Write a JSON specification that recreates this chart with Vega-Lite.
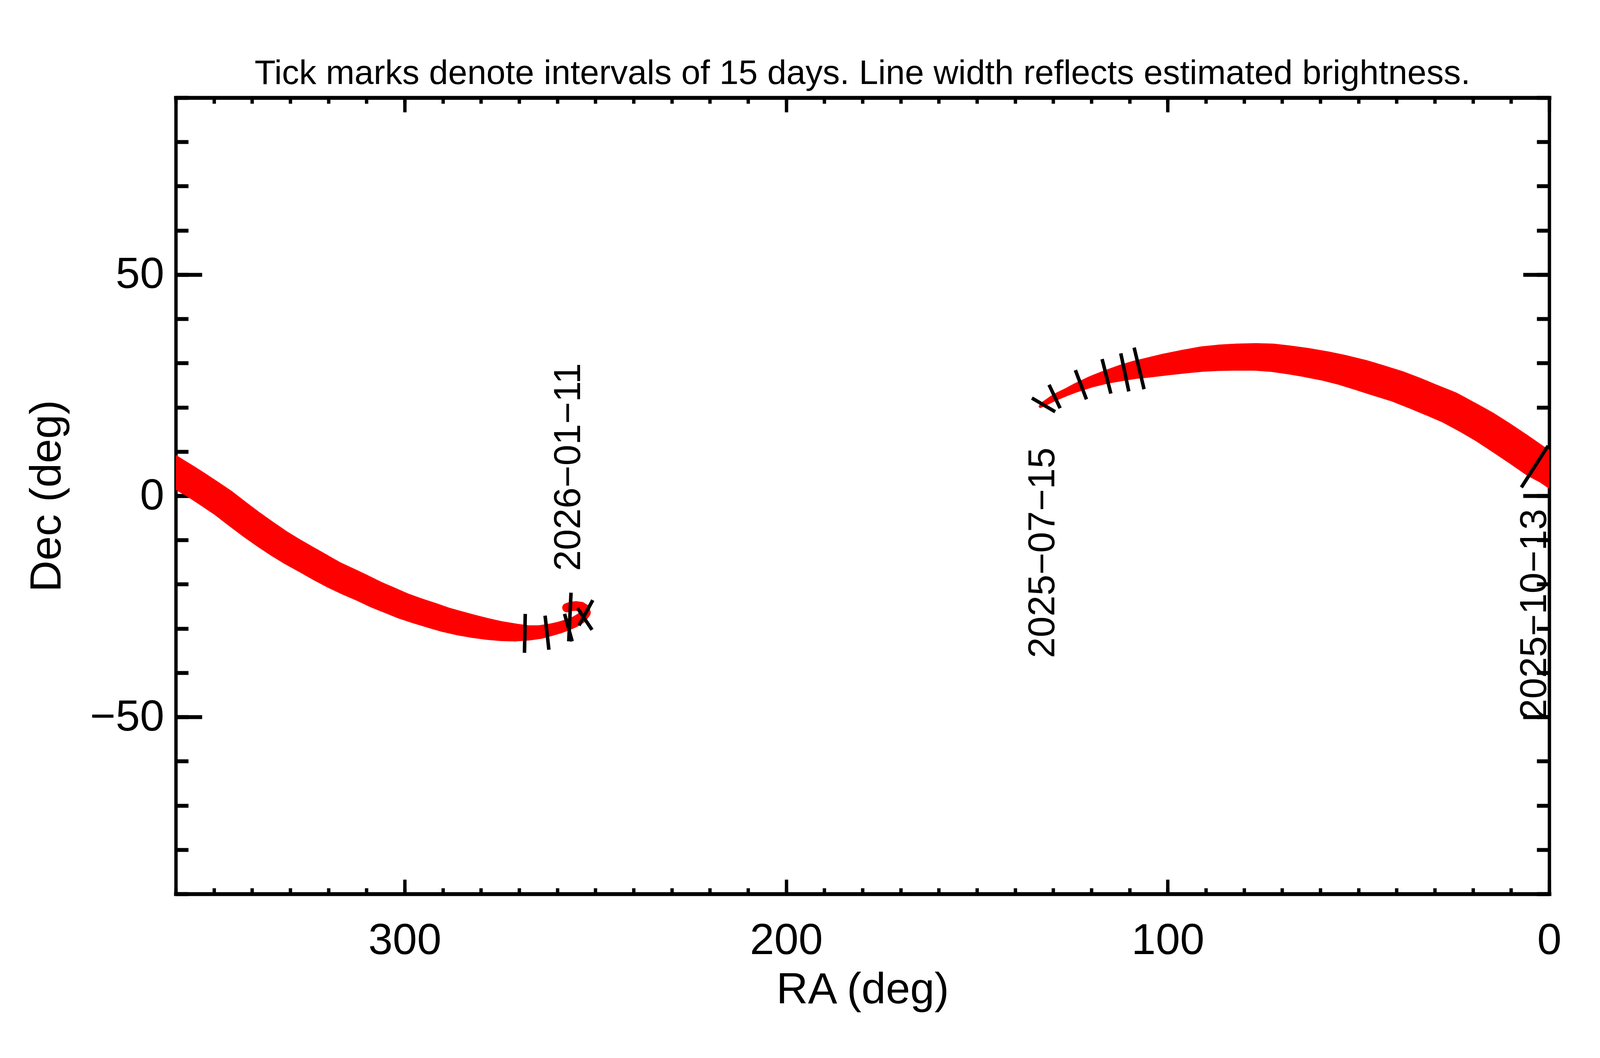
{
  "$schema": "https://vega.github.io/schema/vega-lite/v6.json",
  "width": 3516,
  "height": 2038,
  "autosize": {"type": "none"},
  "padding": {"left": 450, "top": 250, "right": 202, "bottom": 420},
  "background": "white",
  "title": {
    "text": "Tick marks denote intervals of 15 days.  Line width reflects estimated brightness.",
    "font": "Liberation Sans",
    "fontSize": 88,
    "fontWeight": "normal",
    "color": "black",
    "anchor": "middle",
    "baseline": "alphabetic",
    "offset": 0,
    "dy": 58,
    "limit": 0
  },
  "config": {
    "view": {"stroke": null},
    "axis": {
      "grid": false,
      "zindex": 0,
      "domainColor": "black",
      "domainCap": "square",
      "tickColor": "black",
      "labelFont": "Liberation Sans",
      "titleFont": "Liberation Sans",
      "labelColor": "black",
      "titleColor": "black",
      "labelFontSize": 112,
      "titleFontSize": 112,
      "titleFontWeight": "normal",
      "labelLimit": 0,
      "titleLimit": 0,
      "labelFlush": false,
      "labelOverlap": false
    },
    "axisX": {"tickWidth": 8.6, "domainWidth": 10},
    "axisY": {"tickWidth": 10, "domainWidth": 8.6}
  },
  "datasets": {
    "path": [
      {"seg": 1, "t": 1, "ra": 133.4, "dec": 20.2, "mag": 16.0},
      {"seg": 1, "t": 2, "ra": 132.4, "dec": 20.8, "mag": 15.25},
      {"seg": 1, "t": 3, "ra": 130.5, "dec": 21.8, "mag": 14.9},
      {"seg": 1, "t": 4, "ra": 128.7, "dec": 22.6, "mag": 14.6},
      {"seg": 1, "t": 5, "ra": 126.4, "dec": 23.5, "mag": 14.4},
      {"seg": 1, "t": 6, "ra": 124.1, "dec": 24.4, "mag": 14.0},
      {"seg": 1, "t": 7, "ra": 120.0, "dec": 25.8, "mag": 13.25},
      {"seg": 1, "t": 8, "ra": 116.0, "dec": 26.9, "mag": 12.5},
      {"seg": 1, "t": 9, "ra": 112.0, "dec": 27.8, "mag": 11.6},
      {"seg": 1, "t": 10, "ra": 108.5, "dec": 28.5, "mag": 11.0},
      {"seg": 1, "t": 11, "ra": 105.0, "dec": 29.0, "mag": 10.4},
      {"seg": 1, "t": 12, "ra": 100.5, "dec": 29.7, "mag": 9.75},
      {"seg": 1, "t": 13, "ra": 96.0, "dec": 30.3, "mag": 9.25},
      {"seg": 1, "t": 14, "ra": 91.0, "dec": 30.9, "mag": 8.7},
      {"seg": 1, "t": 15, "ra": 86.5, "dec": 31.2, "mag": 8.4},
      {"seg": 1, "t": 16, "ra": 82.0, "dec": 31.35, "mag": 8.2},
      {"seg": 1, "t": 17, "ra": 77.0, "dec": 31.4, "mag": 8.0},
      {"seg": 1, "t": 18, "ra": 72.5, "dec": 31.2, "mag": 7.75},
      {"seg": 1, "t": 19, "ra": 68.0, "dec": 30.7, "mag": 7.6},
      {"seg": 1, "t": 20, "ra": 63.5, "dec": 30.1, "mag": 7.4},
      {"seg": 1, "t": 21, "ra": 58.5, "dec": 29.3, "mag": 7.25},
      {"seg": 1, "t": 22, "ra": 54.0, "dec": 28.4, "mag": 7.0},
      {"seg": 1, "t": 23, "ra": 49.0, "dec": 27.2, "mag": 6.6},
      {"seg": 1, "t": 24, "ra": 44.5, "dec": 26.0, "mag": 6.5},
      {"seg": 1, "t": 25, "ra": 40.0, "dec": 24.8, "mag": 6.5},
      {"seg": 1, "t": 26, "ra": 35.5, "dec": 23.3, "mag": 6.4},
      {"seg": 1, "t": 27, "ra": 31.0, "dec": 21.7, "mag": 6.4},
      {"seg": 1, "t": 28, "ra": 26.0, "dec": 19.9, "mag": 6.25},
      {"seg": 1, "t": 29, "ra": 21.5, "dec": 17.8, "mag": 6.25},
      {"seg": 1, "t": 30, "ra": 17.0, "dec": 15.6, "mag": 6.1},
      {"seg": 1, "t": 31, "ra": 12.5, "dec": 13.1, "mag": 6.0},
      {"seg": 1, "t": 32, "ra": 8.0, "dec": 10.5, "mag": 6.0},
      {"seg": 1, "t": 33, "ra": 3.5, "dec": 7.8, "mag": 6.0},
      {"seg": 1, "t": 34, "ra": 0.0, "dec": 6.2, "mag": 6.0},
      {"seg": 1, "t": 35, "ra": -2.0, "dec": 5.0, "mag": 6.0},
      {"seg": 2, "t": 36, "ra": 361.5, "dec": 6.1, "mag": 7.25},
      {"seg": 2, "t": 37, "ra": 359.3, "dec": 4.9, "mag": 7.25},
      {"seg": 2, "t": 38, "ra": 357.0, "dec": 3.7, "mag": 7.25},
      {"seg": 2, "t": 39, "ra": 354.9, "dec": 2.6, "mag": 7.4},
      {"seg": 2, "t": 40, "ra": 351.2, "dec": 0.5, "mag": 7.4},
      {"seg": 2, "t": 41, "ra": 347.6, "dec": -1.6, "mag": 7.4},
      {"seg": 2, "t": 42, "ra": 344.0, "dec": -4.0, "mag": 7.4},
      {"seg": 2, "t": 43, "ra": 340.3, "dec": -6.4, "mag": 7.4},
      {"seg": 2, "t": 44, "ra": 336.7, "dec": -8.6, "mag": 7.4},
      {"seg": 2, "t": 45, "ra": 333.1, "dec": -10.7, "mag": 7.5},
      {"seg": 2, "t": 46, "ra": 329.5, "dec": -12.6, "mag": 7.5},
      {"seg": 2, "t": 47, "ra": 325.8, "dec": -14.4, "mag": 7.6},
      {"seg": 2, "t": 48, "ra": 322.1, "dec": -16.2, "mag": 7.6},
      {"seg": 2, "t": 49, "ra": 318.5, "dec": -17.9, "mag": 7.75},
      {"seg": 2, "t": 50, "ra": 314.8, "dec": -19.4, "mag": 7.75},
      {"seg": 2, "t": 51, "ra": 311.2, "dec": -20.8, "mag": 7.9},
      {"seg": 2, "t": 52, "ra": 307.6, "dec": -22.3, "mag": 8.0},
      {"seg": 2, "t": 53, "ra": 304.0, "dec": -23.6, "mag": 8.1},
      {"seg": 2, "t": 54, "ra": 300.4, "dec": -24.9, "mag": 8.25},
      {"seg": 2, "t": 55, "ra": 296.7, "dec": -26.0, "mag": 8.4},
      {"seg": 2, "t": 56, "ra": 293.0, "dec": -27.0, "mag": 8.5},
      {"seg": 2, "t": 57, "ra": 289.4, "dec": -28.0, "mag": 8.75},
      {"seg": 2, "t": 58, "ra": 285.7, "dec": -28.8, "mag": 9.0},
      {"seg": 2, "t": 59, "ra": 282.1, "dec": -29.5, "mag": 9.4},
      {"seg": 2, "t": 60, "ra": 278.5, "dec": -30.1, "mag": 9.9},
      {"seg": 2, "t": 61, "ra": 274.8, "dec": -30.6, "mag": 10.5},
      {"seg": 2, "t": 62, "ra": 271.2, "dec": -30.9, "mag": 11.1},
      {"seg": 2, "t": 63, "ra": 267.6, "dec": -31.0, "mag": 12.0},
      {"seg": 2, "t": 64, "ra": 264.5, "dec": -30.8, "mag": 12.5},
      {"seg": 2, "t": 65, "ra": 261.7, "dec": -30.3, "mag": 12.9},
      {"seg": 2, "t": 66, "ra": 259.5, "dec": -29.8, "mag": 13.1},
      {"seg": 2, "t": 67, "ra": 257.4, "dec": -29.2, "mag": 13.25},
      {"seg": 2, "t": 68, "ra": 255.4, "dec": -28.5, "mag": 13.4},
      {"seg": 2, "t": 69, "ra": 253.7, "dec": -27.6, "mag": 13.5},
      {"seg": 2, "t": 70, "ra": 252.6, "dec": -26.4, "mag": 13.6},
      {"seg": 2, "t": 71, "ra": 252.8, "dec": -25.6, "mag": 13.75},
      {"seg": 2, "t": 72, "ra": 253.7, "dec": -25.1, "mag": 13.75},
      {"seg": 2, "t": 73, "ra": 255.0, "dec": -24.9, "mag": 13.9},
      {"seg": 2, "t": 74, "ra": 256.4, "dec": -25.0, "mag": 13.9},
      {"seg": 2, "t": 75, "ra": 257.5, "dec": -25.3, "mag": 14.0}
    ],
    "ticks": [
      {"seg": 1, "ra1": 135.6, "dec1": 22.1, "ra2": 129.5, "dec2": 19.0},
      {"seg": 1, "ra1": 131.1, "dec1": 25.1, "ra2": 128.2, "dec2": 19.8},
      {"seg": 1, "ra1": 124.2, "dec1": 28.4, "ra2": 121.3, "dec2": 21.8},
      {"seg": 1, "ra1": 117.2, "dec1": 30.9, "ra2": 114.9, "dec2": 23.1},
      {"seg": 1, "ra1": 112.3, "dec1": 32.2, "ra2": 110.2, "dec2": 23.6},
      {"seg": 1, "ra1": 108.8, "dec1": 33.5, "ra2": 106.2, "dec2": 24.1},
      {"seg": 1, "ra1": 7.3, "dec1": 1.9, "ra2": 0.3, "dec2": 11.3},
      {"seg": 2, "ra1": 268.4, "dec1": -26.7, "ra2": 268.6, "dec2": -35.5},
      {"seg": 2, "ra1": 263.2, "dec1": -27.1, "ra2": 262.2, "dec2": -34.8},
      {"seg": 2, "ra1": 256.4, "dec1": -21.9, "ra2": 257.0, "dec2": -32.9},
      {"seg": 2, "ra1": 258.1, "dec1": -26.7, "ra2": 256.1, "dec2": -32.9},
      {"seg": 2, "ra1": 254.3, "dec1": -29.3, "ra2": 250.7, "dec2": -23.6},
      {"seg": 2, "ra1": 254.7, "dec1": -25.4, "ra2": 250.9, "dec2": -30.3}
    ],
    "dates": [
      {"label": "2025−07−15", "ra": 132.7, "dec": -36.7},
      {"label": "2025−10−13", "ra": 3.8, "dec": -50.6},
      {"label": "2026−01−11", "ra": 257.0, "dec": -17.0}
    ]
  },
  "layer": [
    {
      "data": {"name": "path"},
      "mark": {"type": "trail", "color": "#ff0000", "clip": true},
      "encoding": {
        "x": {
          "field": "ra",
          "type": "quantitative",
          "scale": {"domain": [0, 360], "reverse": true, "nice": false, "zero": false},
          "axis": {
            "orient": "bottom",
            "values": [0, 100, 200, 300],
            "tickSize": -37,
            "labelPadding": 102,
            "title": "RA (deg)",
            "titlePadding": 16,
            "domain": true
          }
        },
        "y": {
          "field": "dec",
          "type": "quantitative",
          "scale": {"domain": [-90, 90], "nice": false, "zero": false},
          "axis": {
            "orient": "left",
            "values": [-50, 0, 50],
            "tickSize": -67,
            "labelPadding": 97,
            "title": "Dec (deg)",
            "titlePadding": 72,
            "domain": true
          }
        },
        "size": {
          "field": "mag",
          "type": "quantitative",
          "scale": {"domain": [17, 5], "range": [0, 94], "zero": false},
          "legend": null
        },
        "order": {"field": "t", "type": "quantitative"},
        "detail": {"field": "seg", "type": "nominal"}
      }
    },
    {
      "data": {"name": "ticks"},
      "transform": [{"filter": "datum.seg == 1"}],
      "mark": {"type": "rule", "color": "black", "strokeWidth": 9, "clip": true},
      "encoding": {
        "x": {
          "field": "ra1",
          "type": "quantitative",
          "scale": {"domain": [0, 360], "reverse": true, "nice": false, "zero": false},
          "axis": {
            "orient": "bottom",
            "values": [0, 10, 20, 30, 40, 50, 60, 70, 80, 90, 100, 110, 120, 130, 140, 150, 160, 170, 180, 190, 200, 210, 220, 230, 240, 250, 260, 270, 280, 290, 300, 310, 320, 330, 340, 350, 360],
            "tickSize": -15,
            "labels": false,
            "title": null,
            "domain": false
          }
        },
        "x2": {"field": "ra2"},
        "y": {
          "field": "dec1",
          "type": "quantitative",
          "scale": {"domain": [-90, 90], "nice": false, "zero": false},
          "axis": {
            "orient": "left",
            "values": [-90, -80, -70, -60, -50, -40, -30, -20, -10, 0, 10, 20, 30, 40, 50, 60, 70, 80, 90],
            "tickSize": -32,
            "labels": false,
            "title": null,
            "domain": false
          }
        },
        "y2": {"field": "dec2"}
      }
    },
    {
      "data": {"name": "ticks"},
      "transform": [{"filter": "datum.seg == 2"}],
      "mark": {"type": "rule", "color": "black", "strokeWidth": 9, "clip": true},
      "encoding": {
        "x": {
          "field": "ra1",
          "type": "quantitative",
          "scale": {"domain": [0, 360], "reverse": true, "nice": false, "zero": false},
          "axis": {
            "orient": "top",
            "values": [0, 10, 20, 30, 40, 50, 60, 70, 80, 90, 100, 110, 120, 130, 140, 150, 160, 170, 180, 190, 200, 210, 220, 230, 240, 250, 260, 270, 280, 290, 300, 310, 320, 330, 340, 350, 360],
            "tickSize": -15,
            "labels": false,
            "title": null,
            "domain": false
          }
        },
        "x2": {"field": "ra2"},
        "y": {
          "field": "dec1",
          "type": "quantitative",
          "scale": {"domain": [-90, 90], "nice": false, "zero": false},
          "axis": {
            "orient": "right",
            "values": [-90, -80, -70, -60, -50, -40, -30, -20, -10, 0, 10, 20, 30, 40, 50, 60, 70, 80, 90],
            "tickSize": -32,
            "labels": false,
            "title": null,
            "domain": false
          }
        },
        "y2": {"field": "dec2"}
      }
    },
    {
      "data": {"name": "dates"},
      "mark": {
        "type": "text",
        "angle": 270,
        "align": "left",
        "baseline": "middle",
        "font": "Liberation Sans",
        "fontSize": 96,
        "color": "black"
      },
      "encoding": {
        "x": {
          "field": "ra",
          "type": "quantitative",
          "scale": {"domain": [0, 360], "reverse": true, "nice": false, "zero": false},
          "axis": {
            "orient": "top",
            "values": [0, 100, 200, 300],
            "tickSize": -37,
            "labels": false,
            "title": null,
            "domain": true
          }
        },
        "y": {
          "field": "dec",
          "type": "quantitative",
          "scale": {"domain": [-90, 90], "nice": false, "zero": false},
          "axis": {
            "orient": "right",
            "values": [-50, 0, 50],
            "tickSize": -67,
            "labels": false,
            "title": null,
            "domain": true
          }
        },
        "text": {"field": "label"}
      }
    }
  ],
  "resolve": {"axis": {"x": "independent", "y": "independent"}}
}
